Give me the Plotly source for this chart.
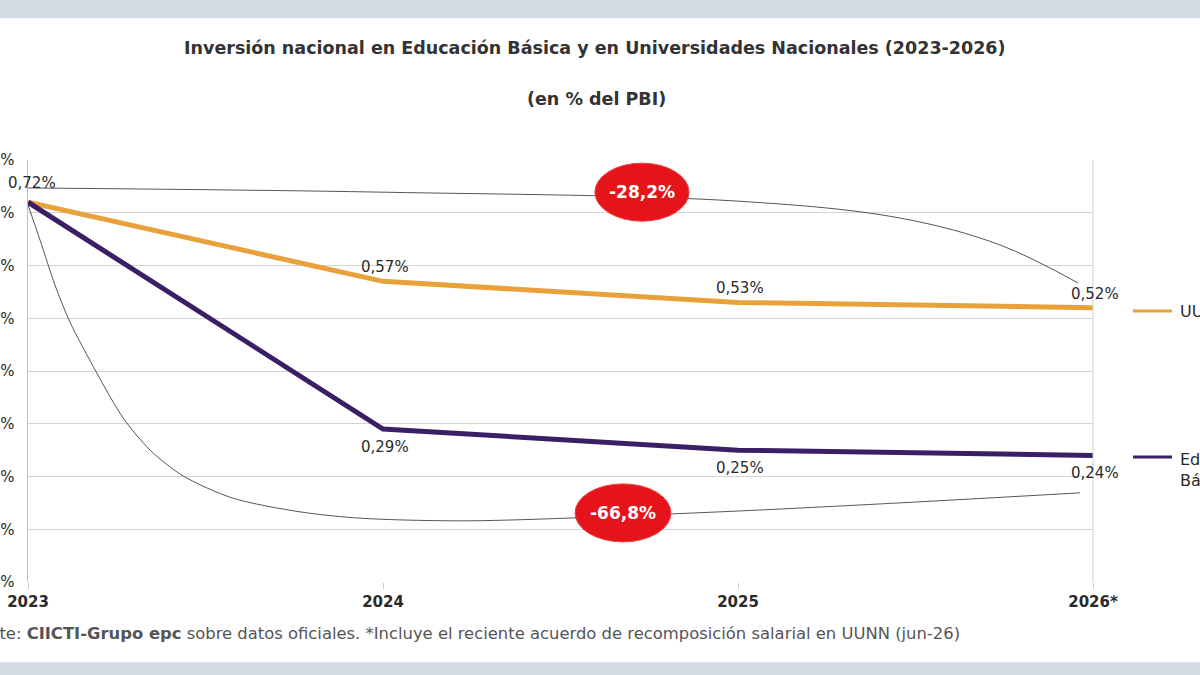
import plotly.graph_objects as go

years = [2023, 2024, 2025, 2026]
year_labels = ["2023", "2024", "2025", "2026*"]
uunn = [0.72, 0.57, 0.53, 0.52]
basica = [0.72, 0.29, 0.25, 0.24]
uunn_labels = ["0,72%", "0,57%", "0,53%", "0,52%"]
basica_labels = ["", "0,29%", "0,25%", "0,24%"]

# decorative arcs linking start and end of each series
arc_up_x = [2023, 2024, 2025, 2025.456, 2025.738, 2025.958]
arc_up_y = [0.747, 0.739, 0.722, 0.690, 0.639, 0.567]
arc_lo_x = [2023, 2023.034, 2023.076, 2023.118, 2023.194, 2023.268, 2023.344, 2023.437, 2023.577,
            2023.766, 2023.935, 2024.245, 2024.949, 2025.456, 2025.963]
arc_lo_y = [0.715, 0.648, 0.563, 0.493, 0.396, 0.311, 0.250, 0.201, 0.159,
            0.133, 0.121, 0.116, 0.133, 0.150, 0.169]

changes = ["-28,2%", "-66,8%"]

yticks = [0, 0.1, 0.2, 0.3, 0.4, 0.5, 0.6, 0.7, 0.8]
ytick_labels = ["0,00%", "0,10%", "0,20%", "0,30%", "0,40%", "0,50%", "0,60%", "0,70%", "0,80%"]

ORANGE = "#E9A23B"
PURPLE = "#3B1F66"
TXT = "#2a2a2a"
FONT = "DejaVu Sans, Verdana, sans-serif"
NB = "\u00a0\u00a0"

fig = go.Figure()
fig.add_trace(go.Scatter(x=arc_up_x, y=arc_up_y, mode="lines", line=dict(color="#555555", width=1, shape="spline"),
                         showlegend=False, hoverinfo="skip"))
fig.add_trace(go.Scatter(x=arc_lo_x, y=arc_lo_y, mode="lines",
                         line=dict(color="#555555", width=1, shape="spline", smoothing=0.8),
                         showlegend=False, hoverinfo="skip"))
fig.add_trace(go.Scatter(x=years, y=uunn, mode="lines", line=dict(color=ORANGE, width=5), name="UUNN",
                         showlegend=False))
fig.add_trace(go.Scatter(x=years, y=basica, mode="lines", line=dict(color=PURPLE, width=5), name="Educación Básica",
                         showlegend=False))

# data labels
for i, (x, lab) in enumerate(zip(years, uunn_labels)):
    fig.add_annotation(x=x, y=uunn[i], text=lab, showarrow=False, yshift=14 if i > 0 else 19,
                       xshift=2 if i > 0 else 4, font=dict(size=15, color=TXT, family=FONT))
for i, (x, lab) in enumerate(zip(years, basica_labels)):
    if lab:
        fig.add_annotation(x=x, y=basica[i], text=lab, showarrow=False, yshift=-18, xshift=2,
                           font=dict(size=15, color=TXT, family=FONT))

# red ellipses
ell = [(2024.597, 2024.862, 0.684, 0.794), (2024.541, 2024.811, 0.076, 0.186)]
for (x0, x1, y0, y1), txt in zip(ell, changes):
    fig.add_shape(type="circle", xref="x", yref="y", x0=x0, x1=x1, y0=y0, y1=y1,
                  fillcolor="#E5141B", line=dict(color="#F04040", width=1), layer="above")
    fig.add_annotation(x=(x0 + x1) / 2, y=(y0 + y1) / 2, text="<b>" + txt + "</b>", showarrow=False,
                       font=dict(size=17, color="white", family=FONT))

# gray bands top and bottom
fig.add_shape(type="rect", xref="paper", yref="paper", x0=-0.03, x1=1.11, y0=1.336, y1=1.40,
              fillcolor="#D3DAE3", line=dict(width=0), layer="below")
fig.add_shape(type="rect", xref="paper", yref="paper", x0=-0.03, x1=1.11, y0=-0.23, y1=-0.19,
              fillcolor="#D3DAE3", line=dict(width=0), layer="below")

# right plot border
fig.add_shape(type="line", xref="paper", yref="paper", x0=1, x1=1, y0=0, y1=1,
              line=dict(color="#d0d0d0", width=1))

# legend (manual)
fig.add_shape(type="line", xref="paper", yref="paper", x0=1.0376, x1=1.0742, y0=0.642, y1=0.642,
              line=dict(color=ORANGE, width=3))
fig.add_annotation(xref="paper", yref="paper", x=1.0798, y=0.642, text="UUNN", showarrow=False,
                   xanchor="left", yanchor="middle", font=dict(size=16, color=TXT, family=FONT))
fig.add_shape(type="line", xref="paper", yref="paper", x0=1.0376, x1=1.0742, y0=0.296, y1=0.296,
              line=dict(color=PURPLE, width=3))
fig.add_annotation(xref="paper", yref="paper", x=1.0798, y=0.318, text="Educación<br>Básica", showarrow=False,
                   xanchor="left", yanchor="top", align="left", font=dict(size=16, color=TXT, family=FONT))

# titles
fig.add_annotation(xref="paper", yref="paper", x=0.532, y=1.293, showarrow=False,
                   text="<b>Inversión nacional en Educación Básica y en Universidades Nacionales (2023-2026)</b>",
                   font=dict(size=17.5, color="#333333", family=FONT))
fig.add_annotation(xref="paper", yref="paper", x=0.534, y=1.172, showarrow=False,
                   text="<b>(en % del PBI)</b>", font=dict(size=17.5, color="#333333", family=FONT))

# footnote
fig.add_annotation(xref="paper", yref="paper", x=0.877, y=-0.149, showarrow=False, xanchor="right",
                   text="Fuente: <b>CIICTI-Grupo epc</b> sobre datos oficiales. *Incluye el reciente acuerdo de recomposición salarial en UUNN (jun-26)",
                   font=dict(size=16.4, color="#555555", family=FONT))

fig.update_xaxes(range=[2023, 2026], tickvals=years, ticktext=["<b>" + t + "</b>" for t in year_labels],
                 showgrid=False, zeroline=False, showline=False, ticks="outside", ticklen=6, automargin=False,
                 tickcolor="#cccccc", tickfont=dict(size=15, color=TXT, family=FONT))
fig.update_yaxes(range=[0, 0.8], tickvals=yticks, ticktext=[t + NB for t in ytick_labels],
                 showgrid=True, gridcolor="#d4d4d4",
                 zeroline=False, showline=True, linecolor="#bdbdbd", ticks="", automargin=False,
                 tickfont=dict(size=15, color=TXT, family=FONT))

fig.update_layout(width=1200, height=675, margin=dict(l=28, r=107, t=160, b=93),
                  plot_bgcolor="white", paper_bgcolor="white")

fig.write_html("out.html")
